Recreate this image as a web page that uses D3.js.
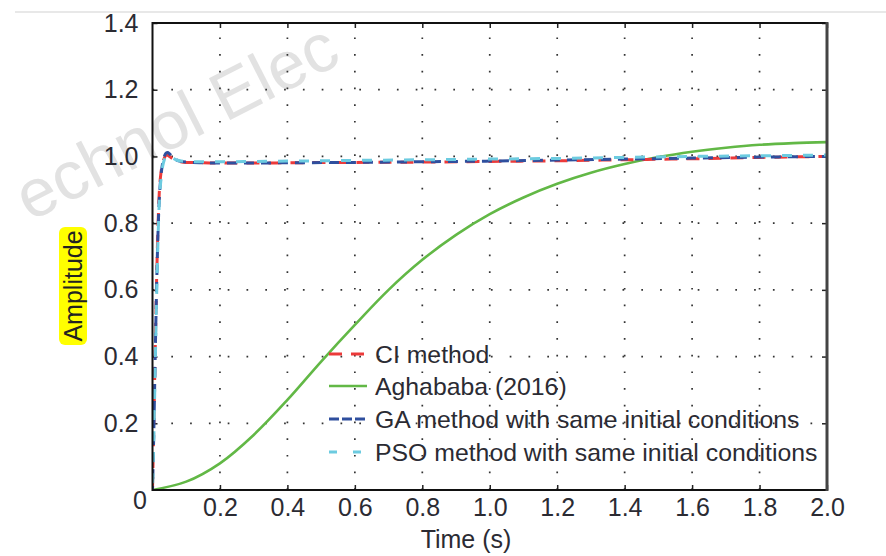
<!DOCTYPE html>
<html>
<head>
<meta charset="utf-8">
<script src="https://cdn.jsdelivr.net/npm/d3@7"></script>
<style>
  body { margin: 0; background: #fff; }
  svg { display: block; font-family: "Liberation Sans", Arial, sans-serif; }
</style>
</head>
<body>
<script>
// metrics
const width = 886, height = 556;
const plotLeft = 152.5, plotRight = 827, plotTop = 23, plotBottom = 490;

// data
const xTicks = [0.2, 0.4, 0.6, 0.8, 1.0, 1.2, 1.4, 1.6, 1.8, 2.0];
const yTicks = [0.2, 0.4, 0.6, 0.8, 1.0, 1.2, 1.4];

// fast responses (CI, GA, PSO) share one time base
const timeFast = [0, 0.004, 0.008, 0.012, 0.016, 0.02, 0.025, 0.03, 0.035, 0.04,
  0.045, 0.05, 0.06, 0.07, 0.08, 0.1, 0.15, 0.2, 0.3, 0.4,
  0.6, 0.8, 1.0, 1.2, 1.4, 1.6, 1.8, 2.0];
const ciValues = [0, 0.2, 0.42, 0.62, 0.78, 0.89, 0.95, 0.98, 0.995, 1.003,
  1.004, 1.0, 0.993, 0.988, 0.985, 0.982, 0.981, 0.98, 0.98, 0.981,
  0.982, 0.983, 0.985, 0.987, 0.99, 0.993, 0.997, 1.0];
const gaValues = [0, 0.18, 0.4, 0.6, 0.76, 0.87, 0.94, 0.98, 1.0, 1.01,
  1.012, 1.008, 0.998, 0.99, 0.986, 0.983, 0.981, 0.98, 0.98, 0.981,
  0.982, 0.984, 0.986, 0.989, 0.992, 0.995, 0.998, 1.0];
const psoValues = [0, 0.16, 0.37, 0.57, 0.74, 0.86, 0.93, 0.97, 0.99, 1.0,
  1.003, 1.0, 0.995, 0.99, 0.987, 0.985, 0.984, 0.984, 0.985, 0.986,
  0.988, 0.99, 0.992, 0.994, 0.997, 1.0, 1.002, 1.004];

// Aghababa (2016)
const timeSlow = [0, 0.1, 0.2, 0.3, 0.4, 0.5, 0.6, 0.7, 0.8, 0.9, 1.0,
  1.1, 1.2, 1.3, 1.4, 1.5, 1.6, 1.7, 1.8, 1.9, 2.0];
const aghababaValues = [0, 0.025, 0.08, 0.165, 0.27, 0.385, 0.495, 0.6, 0.69, 0.765, 0.827,
  0.877, 0.918, 0.951, 0.977, 0.998, 1.014, 1.026, 1.035, 1.04, 1.043];

const seriesNames = ["CI method", "Aghababa (2016)",
  "GA method with same initial conditions", "PSO method with same initial conditions"];

// elements
const svg = d3.select('body').append('svg')
    .attr('width', width)
    .attr('height', height);

// faint page header shadow
svg.append('line')
    .attr('x1', 15).attr('x2', width).attr('y1', 12).attr('y2', 12)
    .attr('stroke', '#e8e8e8').attr('stroke-width', 2);

// watermark
svg.append('text')
    .attr('transform', 'translate(30,222) rotate(-27)')
    .attr('font-size', 68)
    .attr('fill', '#e2e2e2')
    .text('echnol Elec');

// scales
const xScale = d3.scaleLinear().domain([0, 2]).range([plotLeft, plotRight]);
const yScale = d3.scaleLinear().domain([0, 1.4]).range([plotBottom, plotTop]);

// grid
const grid = svg.append('g').attr('stroke', '#333').attr('stroke-width', 1.7);
grid.selectAll('.gx').data(xTicks.slice(0, -1)).join('line')
    .attr('x1', d => xScale(d)).attr('x2', d => xScale(d))
    .attr('y1', plotBottom).attr('y2', plotTop)
    .attr('stroke-dasharray', '1.7,15');
grid.selectAll('.gy').data(yTicks.slice(0, -1)).join('line')
    .attr('y1', d => yScale(d)).attr('y2', d => yScale(d))
    .attr('x1', plotLeft).attr('x2', plotRight)
    .attr('stroke-dasharray', '1.7,17.1');

// axes
const fmt = d3.format('.1f');
svg.append('g')
    .attr('transform', `translate(0, ${plotBottom})`)
    .call(d3.axisBottom(xScale).tickValues(xTicks).tickFormat(fmt)
      .tickSizeInner(-5).tickSizeOuter(0).tickPadding(8));
svg.append('g')
    .attr('transform', `translate(${plotLeft}, 0)`)
    .call(d3.axisLeft(yScale).tickValues(yTicks).tickFormat(fmt)
      .tickSizeInner(-5).tickSizeOuter(0).tickPadding(14));
svg.append('g')
    .attr('transform', `translate(0, ${plotTop})`)
    .call(d3.axisTop(xScale).tickValues(xTicks).tickFormat('')
      .tickSizeInner(-5).tickSizeOuter(0));
svg.append('g')
    .attr('transform', `translate(${plotRight}, 0)`)
    .call(d3.axisRight(yScale).tickValues(yTicks).tickFormat('')
      .tickSizeInner(-5).tickSizeOuter(0));
svg.selectAll('.domain').remove();
svg.selectAll('.tick line').attr('stroke', '#222').attr('stroke-width', 1.5);
svg.selectAll('.tick text')
    .attr('font-size', 25)
    .attr('fill', '#2b2b33');

// zero label sits below the corner
svg.append('text')
    .attr('x', 140).attr('y', 509)
    .attr('text-anchor', 'middle')
    .attr('font-size', 25)
    .attr('fill', '#2b2b33')
    .text('0');

// clip
svg.append('clipPath').attr('id', 'plot')
  .append('rect')
    .attr('x', plotLeft).attr('y', plotTop - 5)
    .attr('width', plotRight - plotLeft).attr('height', plotBottom - plotTop + 5);

const line = (xs, curve) => d3.line()
    .x((d, i) => xScale(xs[i]))
    .y(d => yScale(d))
    .curve(curve);

const curves = svg.append('g').attr('clip-path', 'url(#plot)')
    .attr('fill', 'none').attr('stroke-width', 3);

curves.append('path')
    .attr('d', line(timeSlow, d3.curveCatmullRom)(aghababaValues))
    .attr('stroke', '#62b846').attr('stroke-width', 2.6);
curves.append('path')
    .attr('d', line(timeFast, d3.curveMonotoneX)(ciValues))
    .attr('stroke', '#ec3a3a').attr('stroke-dasharray', '13,9');
curves.append('path')
    .attr('d', line(timeFast, d3.curveMonotoneX)(gaValues))
    .attr('stroke', '#2f4f9e').attr('stroke-dasharray', '10,7')
    .attr('stroke-dashoffset', 6);
curves.append('path')
    .attr('d', line(timeFast, d3.curveMonotoneX)(psoValues))
    .attr('stroke', '#6ccbe0').attr('stroke-dasharray', '10,11')
    .attr('stroke-dashoffset', 14);

// frame
svg.append('rect')
    .attr('x', plotLeft).attr('y', plotTop)
    .attr('width', plotRight - plotLeft).attr('height', plotBottom - plotTop)
    .attr('fill', 'none').attr('stroke', '#111').attr('stroke-width', 2);
svg.append('line')
    .attr('x1', plotRight).attr('x2', plotRight).attr('y1', plotTop - 1).attr('y2', plotBottom + 1)
    .attr('stroke', '#444').attr('stroke-width', 3);

// legend
const legendRows = [
  { stroke: '#ec3a3a', dash: '13,9', width: 3 },
  { stroke: '#62b846', dash: null, width: 2.6 },
  { stroke: '#2f4f9e', dash: '10,3', width: 3 },
  { stroke: '#6ccbe0', dash: '8,16', width: 3 }
];
const legendY = [354, 386, 419, 452];
const legend = svg.append('g');
legendRows.forEach((r, i) => {
  legend.append('line')
      .attr('x1', 329).attr('x2', 367)
      .attr('y1', legendY[i]).attr('y2', legendY[i])
      .attr('stroke', r.stroke).attr('stroke-width', r.width)
      .attr('stroke-dasharray', r.dash);
  legend.append('text')
      .attr('x', 375).attr('y', legendY[i])
      .attr('dy', '0.35em')
      .attr('font-size', 24.8)
      .attr('fill', '#2b2b33')
      .text(seriesNames[i]);
});

// axis titles
svg.append('text')
    .attr('x', 466).attr('y', 548)
    .attr('text-anchor', 'middle')
    .attr('font-size', 25)
    .attr('fill', '#2b2b33')
    .text('Time (s)');

const yTitle = svg.append('g').attr('transform', 'translate(73, 286) rotate(-90)');
yTitle.append('rect')
    .attr('x', -59).attr('y', -14)
    .attr('width', 118).attr('height', 28)
    .attr('rx', 6)
    .attr('fill', '#ffff00');
yTitle.append('text')
    .attr('text-anchor', 'middle')
    .attr('dy', '0.36em')
    .attr('font-size', 25)
    .attr('fill', '#222')
    .text('Amplitude');
</script>
</body>
</html>
